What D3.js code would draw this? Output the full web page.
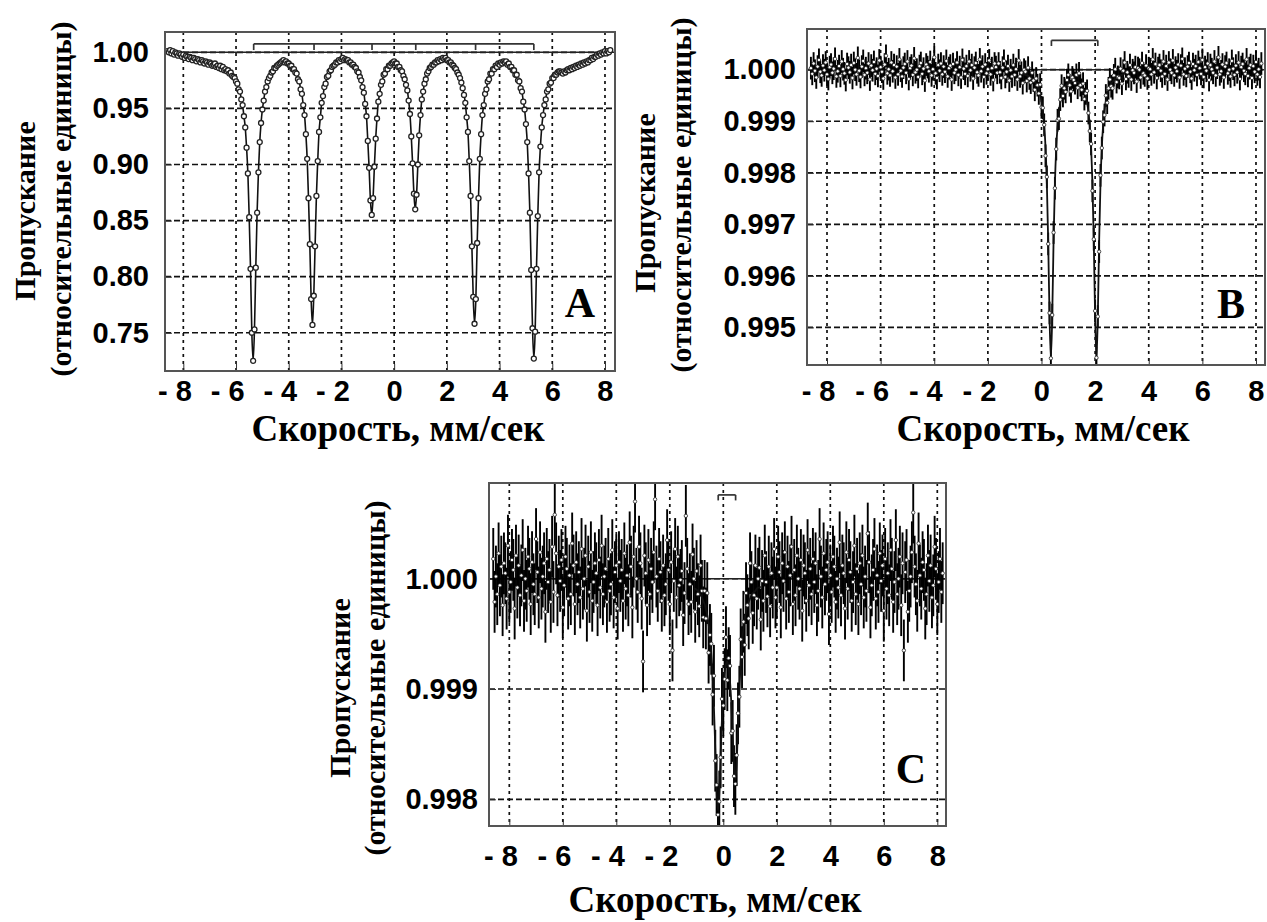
<!DOCTYPE html>
<html>
<head>
<meta charset="utf-8">
<script src="https://cdn.jsdelivr.net/npm/d3@7"></script>
<style>
  body { margin: 0; background: #fff; }
  svg { display: block; }
</style>
</head>
<body>
<div id="chart"></div>
<script>
// velocity channels of all three spectra (mm/s)
var velStart = -8.6;
var velStep = 0.05;

// spectrum A, transmission per channel
var transA = [
1.001, 1.000, 1.002, 0.999, 1.001, 0.998, 1.000, 0.999, 0.997, 0.999,
0.998, 0.996, 0.998, 0.995, 0.997, 0.996, 0.994, 0.996, 0.995, 0.993,
0.995, 0.994, 0.992, 0.994, 0.993, 0.991, 0.993, 0.992, 0.990, 0.992,
0.991, 0.989, 0.991, 0.990, 0.988, 0.989, 0.990, 0.987, 0.988, 0.986,
0.988, 0.985, 0.987, 0.984, 0.985, 0.983, 0.984, 0.981, 0.982, 0.979,
0.978, 0.977, 0.974, 0.972, 0.967, 0.965, 0.958, 0.953, 0.943, 0.933,
0.915, 0.892, 0.853, 0.807, 0.750, 0.725, 0.753, 0.808, 0.857, 0.893,
0.920, 0.937, 0.949, 0.957, 0.965, 0.969, 0.974, 0.977, 0.979, 0.982,
0.983, 0.986, 0.986, 0.988, 0.989, 0.990, 0.991, 0.992, 0.993, 0.991,
0.992, 0.990, 0.990, 0.988, 0.988, 0.985, 0.985, 0.982, 0.981, 0.976,
0.974, 0.967, 0.963, 0.953, 0.944, 0.927, 0.905, 0.870, 0.829, 0.780,
0.757, 0.783, 0.827, 0.872, 0.903, 0.929, 0.942, 0.955, 0.961, 0.969,
0.972, 0.978, 0.979, 0.983, 0.984, 0.987, 0.988, 0.989, 0.991, 0.991,
0.993, 0.992, 0.994, 0.995, 0.993, 0.994, 0.993, 0.993, 0.991, 0.991,
0.989, 0.989, 0.987, 0.986, 0.983, 0.982, 0.978, 0.975, 0.969, 0.964,
0.954, 0.943, 0.921, 0.897, 0.868, 0.855, 0.870, 0.898, 0.923, 0.941,
0.956, 0.963, 0.971, 0.974, 0.980, 0.981, 0.985, 0.985, 0.988, 0.988,
0.990, 0.991, 0.992, 0.990, 0.990, 0.987, 0.987, 0.984, 0.983, 0.979,
0.976, 0.971, 0.966, 0.957, 0.945, 0.925, 0.901, 0.874, 0.860, 0.873,
0.900, 0.926, 0.944, 0.958, 0.965, 0.972, 0.976, 0.981, 0.983, 0.986,
0.987, 0.989, 0.989, 0.991, 0.991, 0.993, 0.992, 0.994, 0.993, 0.995,
0.994, 0.995, 0.993, 0.993, 0.991, 0.991, 0.989, 0.988, 0.986, 0.985,
0.982, 0.980, 0.977, 0.973, 0.968, 0.962, 0.955, 0.942, 0.929, 0.903,
0.872, 0.827, 0.782, 0.758, 0.780, 0.830, 0.870, 0.905, 0.927, 0.944,
0.953, 0.963, 0.967, 0.974, 0.976, 0.981, 0.981, 0.985, 0.985, 0.988,
0.987, 0.990, 0.989, 0.991, 0.990, 0.992, 0.991, 0.992, 0.989, 0.990,
0.987, 0.987, 0.984, 0.984, 0.980, 0.980, 0.975, 0.974, 0.968, 0.965,
0.956, 0.949, 0.936, 0.920, 0.892, 0.857, 0.806, 0.754, 0.727, 0.751,
0.807, 0.854, 0.893, 0.916, 0.933, 0.944, 0.953, 0.958, 0.965, 0.967,
0.972, 0.973, 0.977, 0.977, 0.980, 0.980, 0.982, 0.983, 0.983, 0.982,
0.981, 0.983, 0.982, 0.984, 0.985, 0.984, 0.986, 0.985, 0.987, 0.986,
0.988, 0.987, 0.989, 0.988, 0.990, 0.989, 0.991, 0.990, 0.992, 0.991,
0.993, 0.993, 0.995, 0.994, 0.996, 0.996, 0.998, 0.997, 0.999, 0.998,
1.000, 0.999, 1.001, 0.999, 1.001, 1.000, 1.002
];

// spectrum B
var transB = [
1.00003, 0.99992, 1.00012, 0.99998, 0.99985, 1.00006, 1.00019, 0.99996, 0.99989, 1.00008,
0.99999, 1.00014, 0.99991, 0.99982, 1.00005, 1.00010, 0.99994, 1.00002, 1.00021, 0.99987,
0.99997, 1.00007, 0.99988, 1.00016, 1.00001, 0.99993, 0.99980, 1.00011, 1.00004, 0.99995,
1.00009, 0.99984, 1.00013, 1.00000, 0.99991, 1.00023, 0.99998, 0.99986, 1.00006, 1.00017,
0.99990, 1.00003, 0.99994, 1.00012, 0.99981, 1.00008, 0.99999, 1.00015, 0.99992, 1.00002,
0.99988, 1.00018, 1.00005, 0.99996, 0.99983, 1.00010, 1.00027, 0.99993, 1.00001, 0.99989,
1.00014, 0.99997, 1.00009, 0.99985, 1.00006, 0.99991, 1.00020, 0.99998, 0.99987, 1.00004,
1.00011, 0.99994, 1.00016, 0.99982, 1.00003, 1.00008, 0.99990, 1.00022, 0.99995, 1.00000,
0.99986, 1.00007, 1.00013, 0.99992, 1.00002, 0.99979, 1.00010, 1.00005, 0.99997, 1.00015,
0.99989, 1.00001, 1.00024, 0.99993, 0.99984, 1.00009, 0.99998, 1.00012, 0.99991, 1.00006,
0.99996, 1.00017, 0.99987, 1.00003, 1.00008, 0.99981, 1.00011, 0.99994, 1.00000, 1.00014,
0.99990, 1.00005, 0.99985, 1.00019, 1.00002, 0.99992, 1.00007, 0.99988, 1.00016, 0.99999,
1.00009, 0.99983, 1.00004, 1.00013, 0.99995, 0.99989, 1.00020, 0.99997, 1.00006, 0.99986,
1.00010, 0.99993, 1.00001, 1.00018, 0.99991, 1.00003, 0.99980, 1.00012, 1.00005, 0.99994,
1.00012, 0.99995, 0.99984, 1.00004, 1.00017, 0.99986, 0.99996, 1.00007, 0.99979, 0.99999,
0.99987, 1.00009, 0.99990, 1.00001, 0.99981, 1.00018, 0.99987, 0.99994, 0.99974, 1.00000,
0.99996, 0.99978, 1.00004, 0.99983, 0.99975, 0.99994, 0.99979, 0.99961, 0.99983, 0.99970,
0.99954, 0.99971, 0.99927, 0.99926, 0.99893, 0.99833, 0.99792, 0.99662, 0.99528, 0.99440,
0.99524, 0.99684, 0.99770, 0.99846, 0.99902, 0.99905, 0.99942, 0.99969, 0.99949, 0.99964,
0.99957, 0.99980, 0.99990, 0.99970, 0.99958, 0.99985, 0.99980, 0.99974, 0.99990, 0.99965,
0.99993, 0.99970, 0.99961, 0.99973, 0.99943, 0.99954, 0.99959, 0.99916, 0.99881, 0.99856,
0.99765, 0.99671, 0.99532, 0.99441, 0.99521, 0.99647, 0.99795, 0.99848, 0.99899, 0.99912,
0.99950, 0.99936, 0.99964, 0.99981, 0.99968, 0.99964, 0.99989, 1.00001, 0.99976, 0.99986,
0.99984, 1.00002, 0.99973, 0.99998, 1.00014, 0.99982, 0.99995, 0.99987, 1.00009, 0.99981,
0.99999, 0.99994, 1.00005, 0.99977, 1.00003, 1.00000, 0.99985, 1.00013, 0.99993, 0.99989,
1.00008, 0.99983, 1.00003, 1.00001, 0.99991, 1.00020, 0.99995, 1.00011, 0.99984, 1.00003,
1.00009, 0.99998, 0.99987, 1.00016, 0.99992, 1.00007, 0.99981, 1.00014, 1.00000, 0.99994,
1.00018, 0.99989, 1.00004, 0.99997, 1.00010, 0.99985, 1.00008, 1.00021, 0.99991, 1.00002,
0.99988, 1.00006, 1.00013, 0.99996, 0.99983, 1.00011, 0.99999, 1.00007, 0.99990, 1.00015,
1.00003, 0.99992, 1.00019, 0.99986, 1.00005, 0.99998, 1.00012, 0.99980, 1.00009, 1.00001,
0.99994, 1.00016, 0.99989, 1.00004, 1.00024, 0.99991, 0.99997, 1.00010, 0.99985, 1.00006,
1.00013, 0.99993, 1.00000, 0.99987, 1.00017, 1.00002, 0.99990, 1.00008, 0.99995, 1.00014,
0.99982, 1.00005, 1.00011, 0.99998, 0.99992, 1.00020, 0.99988, 1.00003, 1.00009, 0.99984,
1.00007, 0.99996, 1.00015, 0.99991, 1.00001, 0.99986, 1.00012
];

// spectrum C
var transC = [
1.00018, 0.99979, 1.00002, 0.99986, 1.00023, 0.99994, 1.00011, 0.99976, 1.00014, 1.00005,
0.99982, 1.00030, 0.99988, 0.99997, 1.00017, 1.00008, 0.99973, 1.00021, 0.99992, 1.00012,
0.99985, 1.00003, 1.00026, 0.99980, 1.00000, 0.99989, 1.00020, 1.00009, 0.99977, 1.00015,
0.99995, 0.99986, 1.00036, 1.00006, 0.99983, 1.00024, 0.99991, 1.00002, 1.00014, 0.99970,
1.00018, 0.99997, 1.00008, 0.99979, 1.00029, 0.99988, 1.00058, 1.00023, 0.99985, 1.00011,
0.99998, 1.00017, 0.99974, 0.99994, 1.00020, 1.00009, 0.99982, 1.00003, 0.99986, 1.00032,
1.00012, 0.99977, 1.00015, 0.99995, 1.00006, 0.99983, 1.00027, 0.99991, 1.00000, 1.00021,
0.99971, 1.00011, 0.99988, 1.00024, 0.99980, 0.99997, 1.00014, 1.00005, 0.99976, 1.00017,
0.99992, 1.00030, 0.99986, 1.00002, 1.00009, 0.99979, 1.00018, 0.99989, 0.99995, 1.00026,
0.99983, 1.00006, 1.00012, 0.99973, 1.00015, 0.99998, 1.00008, 0.99980, 1.00023, 0.99991,
1.00003, 0.99985, 1.00033, 1.00011, 0.99974, 1.00020, 1.00070, 1.00000, 0.99988, 1.00029,
1.00014, 0.99982, 0.99925, 1.00021, 1.00005, 0.99976, 1.00017, 0.99986, 1.00009, 0.99997,
1.00024, 1.00072, 1.00002, 0.99989, 1.00018, 1.00006, 0.99980, 1.00012, 0.99985, 0.99995,
1.00035, 1.00008, 0.99977, 1.00015, 0.99935, 0.99998, 1.00027, 0.99983, 1.00020, 0.99994,
0.99999, 1.00007, 0.99967, 0.99987, 1.00057, 1.00009, 0.99977, 0.99995, 0.99979, 1.00022,
1.00000, 0.99970, 1.00007, 0.99986, 0.99975, 1.00012, 0.99989, 0.99965, 0.99989, 0.99964,
0.99987, 0.99933, 0.99949, 0.99941, 0.99895, 0.99912, 0.99835, 0.99813, 0.99786, 0.99798,
0.99838, 0.99891, 0.99885, 0.99909, 0.99947, 0.99908, 0.99928, 0.99921, 0.99860, 0.99862,
0.99821, 0.99814, 0.99840, 0.99878, 0.99893, 0.99945, 0.99929, 0.99961, 0.99940, 0.99987,
0.99976, 0.99964, 1.00014, 0.99997, 0.99969, 0.99985, 1.00012, 0.99982, 1.00000, 1.00010,
0.99963, 0.99998, 0.99980, 1.00021, 0.99997, 0.99984, 1.00011, 0.99975, 1.00005, 0.99992,
1.00027, 0.99983, 0.99992, 1.00020, 1.00006, 0.99974, 1.00014, 0.99998, 1.00024, 0.99982,
1.00011, 0.99988, 1.00003, 1.00029, 0.99977, 1.00008, 0.99985, 1.00021, 1.00000, 0.99991,
1.00017, 0.99971, 1.00012, 1.00005, 0.99980, 1.00026, 0.99994, 1.00009, 0.99986, 1.00018,
0.99997, 1.00014, 0.99976, 0.99989, 1.00036, 1.00002, 0.99983, 1.00023, 0.99995, 1.00008,
1.00015, 0.99968, 1.00003, 0.99988, 1.00020, 1.00011, 0.99979, 1.00000, 0.99992, 1.00033,
0.99985, 1.00012, 1.00005, 0.99973, 1.00024, 0.99991, 1.00017, 1.00006, 0.99980, 0.99997,
1.00030, 0.99986, 1.00009, 0.99977, 1.00014, 0.99995, 1.00021, 0.99983, 1.00002, 0.99989,
1.00041, 1.00015, 0.99974, 0.99994, 1.00008, 1.00027, 0.99982, 1.00003, 0.99988, 1.00023,
0.99998, 1.00012, 0.99971, 1.00018, 0.99991, 1.00005, 0.99985, 1.00026, 1.00009, 0.99979,
0.99997, 1.00035, 0.99986, 1.00000, 1.00020, 0.99976, 1.00014, 0.99935, 1.00006, 1.00017,
0.99970, 0.99989, 1.00002, 1.00024, 1.00060, 1.00011, 0.99995, 0.99980, 1.00032, 1.00003,
0.99991, 1.00015, 1.00008, 0.99973, 0.99986, 1.00021, 0.99998, 1.00012, 0.99983, 0.99994,
1.00029, 1.00009, 0.99977, 0.99997, 1.00018, 0.99988, 1.00005
];

// half length of the error bars
var errB = 0.00022;
var errC = 0.00028;

// fitted curves across the absorption region
var fitBStart = -0.70;
var fitB = [
0.99992, 0.99991, 0.99990, 0.99989, 0.99988, 0.99986, 0.99984, 0.99982, 0.99980, 0.99976,
0.99973, 0.99967, 0.99961, 0.99952, 0.99939, 0.99921, 0.99893, 0.99850, 0.99779, 0.99667,
0.99520, 0.99440, 0.99520, 0.99667, 0.99778, 0.99848, 0.99891, 0.99919, 0.99936, 0.99949,
0.99958, 0.99963, 0.99969, 0.99971, 0.99975, 0.99976, 0.99977, 0.99978, 0.99978, 0.99978,
0.99977, 0.99976, 0.99975, 0.99971, 0.99969, 0.99963, 0.99958, 0.99949, 0.99936, 0.99919,
0.99891, 0.99848, 0.99778, 0.99667, 0.99520, 0.99440, 0.99520, 0.99667, 0.99779, 0.99850,
0.99893, 0.99921, 0.99939, 0.99952, 0.99961, 0.99967, 0.99973, 0.99976, 0.99980, 0.99982,
0.99984, 0.99986, 0.99988, 0.99989, 0.99990, 0.99991, 0.99992
];
var fitCStart = -1.10;
var fitC = [
0.99991, 0.99991, 0.99990, 0.99989, 0.99987, 0.99986, 0.99983, 0.99980, 0.99977, 0.99972,
0.99967, 0.99959, 0.99949, 0.99933, 0.99913, 0.99883, 0.99846, 0.99808, 0.99790, 0.99805,
0.99840, 0.99873, 0.99899, 0.99914, 0.99923, 0.99925, 0.99919, 0.99907, 0.99887, 0.99859,
0.99830, 0.99818, 0.99833, 0.99867, 0.99899, 0.99924, 0.99941, 0.99955, 0.99964, 0.99970,
0.99976, 0.99979, 0.99982, 0.99985, 0.99987, 0.99988, 0.99989, 0.99991, 0.99992, 0.99992,
0.99993
];

// line positions of the subspectra (stick diagrams)
var linesA = [-5.33, -3.04, -0.84, 0.82, 3.09, 5.30];
var linesB = [0.37, 2.10];
var linesC = [-0.19, 0.46];

var xTicks = [-8, -6, -4, -2, 0, 2, 4, 6, 8];
var yTicksA = [1.00, 0.95, 0.90, 0.85, 0.80, 0.75];
var yTicksB = [1.000, 0.999, 0.998, 0.997, 0.996, 0.995];
var yTicksC = [1.000, 0.999, 0.998];

var yTitle1 = "Пропускание";
var yTitle2 = "(относительные единицы)";
var xTitle = "Скорость, мм/сек";

var sans = "'Liberation Sans', Arial, sans-serif";
var serif = "'Liberation Serif', 'Times New Roman', serif";

var svg = d3.select("#chart")
    .append("svg")
    .attr("width", 1267)
    .attr("height", 922);

var panels = [
    { letter: "A", values: transA, err: 0, fit: null, fitStart: 0, sticks: linesA,
      yTicks: yTicksA, fmt: d3.format(".2f"),
      left: 165, right: 615, top: 32, bottom: 371,
      xDomain: [-8.695, 8.38], yDomain: [0.7159, 1.0181],
      stickTop: 1.0075, stickBottom: 1.002, r: 2.5,
      letterPos: [580, 317], yPad: 16, xPad: 9,
      t1: [35, 211], t2: [71, 199], xt: [398, 441] },
    { letter: "B", values: transB, err: errB, fit: fitB, fitStart: fitBStart, sticks: linesB,
      yTicks: yTicksB, fmt: d3.format(".3f"),
      left: 807, right: 1265, top: 29, bottom: 365,
      xDomain: [-8.746, 8.336], yDomain: [0.99427, 1.00079],
      stickTop: 1.00057, stickBottom: 1.00046, r: 1.7,
      letterPos: [1231, 318], yPad: 11, xPad: 15,
      t1: [655, 203], t2: [691, 195], xt: [1043, 441] },
    { letter: "C", values: transC, err: errC, fit: fitC, fitStart: fitCStart, sticks: linesC,
      yTicks: yTicksC, fmt: d3.format(".3f"),
      left: 489, right: 946, top: 483, bottom: 826,
      xDomain: [-8.759, 8.325], yDomain: [0.997758, 1.000868],
      stickTop: 1.00076, stickBottom: 1.00071, r: 1.7,
      letterPos: [911, 783], yPad: 11, xPad: 19,
      t1: [350, 688], t2: [385, 678], xt: [715, 912] }
];

panels.forEach(function(p, k) {
    var x = d3.scaleLinear().domain(p.xDomain).range([p.left, p.right]);
    var y = d3.scaleLinear().domain(p.yDomain).range([p.bottom, p.top]);
    var g = svg.append("g");

    svg.append("clipPath").attr("id", "clip" + k)
        .append("rect")
        .attr("x", p.left).attr("y", p.top)
        .attr("width", p.right - p.left).attr("height", p.bottom - p.top);

    // grid
    g.append("g").selectAll("line")
        .data(xTicks)
        .enter()
        .append("line")
        .attr("x1", d => x(d)).attr("x2", d => x(d))
        .attr("y1", p.top).attr("y2", p.bottom)
        .attr("stroke", "#111").attr("stroke-width", 1.7)
        .attr("stroke-dasharray", "3,4");
    g.append("g").selectAll("line")
        .data(p.yTicks)
        .enter()
        .append("line")
        .attr("x1", p.left).attr("x2", p.right)
        .attr("y1", d => y(d)).attr("y2", d => y(d))
        .attr("stroke", "#111").attr("stroke-width", 1.7)
        .attr("stroke-dasharray", "6,3");

    // axes (inward ticks, labels only)
    var xAxis = d3.axisBottom(x).tickValues(xTicks)
        .tickSizeInner(-7).tickSizeOuter(0).tickPadding(p.xPad)
        .tickFormat(d => d < 0 ? "- " + Math.abs(d) : String(d));
    var gx = g.append("g")
        .attr("transform", `translate(0, ${p.bottom})`)
        .call(xAxis);
    gx.select(".domain").remove();
    gx.attr("font-family", sans).attr("font-size", 29).attr("font-weight", "bold")
        .attr("color", "#333");
    gx.selectAll("text").attr("text-anchor", "end").attr("dx", 8).attr("fill", "#000");

    var yAxis = d3.axisLeft(y).tickValues(p.yTicks)
        .tickSizeInner(-7).tickSizeOuter(0).tickPadding(p.yPad)
        .tickFormat(p.fmt);
    var gy = g.append("g")
        .attr("transform", `translate(${p.left}, 0)`)
        .call(yAxis);
    gy.select(".domain").remove();
    gy.attr("font-family", sans).attr("font-size", 29).attr("font-weight", "bold")
        .attr("color", "#333");
    gy.selectAll("text").attr("fill", "#000");

    var plot = g.append("g").attr("clip-path", `url(#clip${k})`);

    // baseline of the subspectrum
    plot.append("line")
        .attr("x1", p.left).attr("x2", p.right)
        .attr("y1", y(1)).attr("y2", y(1))
        .attr("stroke", "#222").attr("stroke-width", 1.5);

    // stick diagram
    var s0 = d3.min(p.sticks), s1 = d3.max(p.sticks);
    plot.append("line")
        .attr("x1", x(s0)).attr("x2", x(s1))
        .attr("y1", y(p.stickTop)).attr("y2", y(p.stickTop))
        .attr("stroke", "#333").attr("stroke-width", 1.7);
    plot.selectAll(".stick")
        .data(p.sticks)
        .enter()
        .append("line")
        .attr("x1", d => x(d)).attr("x2", d => x(d))
        .attr("y1", y(p.stickTop)).attr("y2", y(p.stickBottom))
        .attr("stroke", "#333").attr("stroke-width", 1.7);

    var pts = p.values.map((v, i) => ({ v: velStart + i * velStep, t: v }));

    // error bars
    if (p.err > 0) {
        plot.append("g").selectAll("line")
            .data(pts)
            .enter()
            .append("line")
            .attr("x1", d => x(d.v)).attr("x2", d => x(d.v))
            .attr("y1", d => y(d.t - p.err)).attr("y2", d => y(d.t + p.err))
            .attr("stroke", "#000").attr("stroke-width", 1.9);
    }

    // fitted curve
    var line = d3.line().x(d => x(d.v)).y(d => y(d.t)).curve(d3.curveMonotoneX);
    var fitPts = p.fit
        ? p.fit.map((v, i) => ({ v: p.fitStart + i * velStep, t: v }))
        : pts;
    plot.append("path")
        .datum(fitPts)
        .attr("d", line)
        .attr("fill", "none")
        .attr("stroke", "#111")
        .attr("stroke-width", p.fit ? 1.8 : 1.6);

    // data points
    plot.append("g").selectAll("circle")
        .data(pts)
        .enter()
        .append("circle")
        .attr("cx", d => x(d.v))
        .attr("cy", d => y(d.t))
        .attr("r", p.r)
        .attr("fill", "#fff")
        .attr("stroke", "#222")
        .attr("stroke-width", p.err > 0 ? 0.8 : 1.3);

    // frame
    g.append("rect")
        .attr("x", p.left).attr("y", p.top)
        .attr("width", p.right - p.left).attr("height", p.bottom - p.top)
        .attr("fill", "none").attr("stroke", "#555").attr("stroke-width", 2);

    // panel letter
    g.append("text")
        .attr("x", p.letterPos[0]).attr("y", p.letterPos[1])
        .attr("text-anchor", "middle")
        .attr("font-family", serif).attr("font-weight", "bold").attr("font-size", 42)
        .attr("fill", "#000")
        .text(p.letter);

    // axis titles
    g.append("text")
        .attr("transform", `translate(${p.t1[0]}, ${p.t1[1]}) rotate(-90)`)
        .attr("text-anchor", "middle")
        .attr("font-family", serif).attr("font-weight", "bold").attr("font-size", 30)
        .attr("fill", "#000")
        .text(yTitle1);
    g.append("text")
        .attr("transform", `translate(${p.t2[0]}, ${p.t2[1]}) rotate(-90)`)
        .attr("text-anchor", "middle")
        .attr("font-family", serif).attr("font-weight", "bold").attr("font-size", 30)
        .attr("fill", "#000")
        .text(yTitle2);
    g.append("text")
        .attr("x", p.xt[0]).attr("y", p.xt[1])
        .attr("text-anchor", "middle")
        .attr("font-family", serif).attr("font-weight", "bold").attr("font-size", 37)
        .attr("fill", "#000")
        .text(xTitle);
});
</script>
</body>
</html>
